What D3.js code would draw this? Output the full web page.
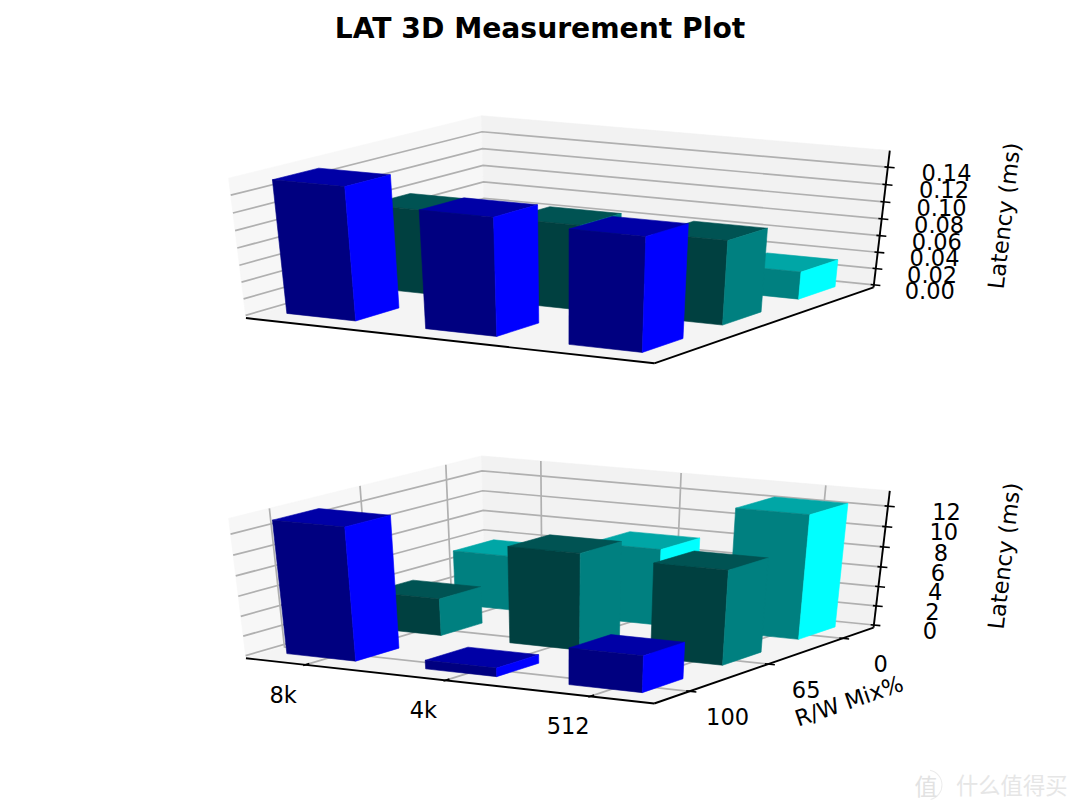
<!DOCTYPE html>
<html>
<head>
<meta charset="utf-8">
<script src="https://cdn.jsdelivr.net/npm/d3@7"></script>
<style>
  body { margin: 0; background: #fff; }
  text { font-family: "DejaVu Sans", sans-serif; fill: #000; }
</style>
</head>
<body>
<div id="chart"></div>
<script>
// Data
// ===========================
var blockSizes = ["8k", "4k", "512"];
var rwMixes = ["100", "65", "0"];
var barColors = ["#0000ff", "#008080", "#00ffff"];

// one array per R/W mix row, in blockSizes order
var avgLatency100 = [0.155, 0.137, 0.132];
var avgLatency65 = [0.100, 0.100, 0.099];
var avgLatency0 = [0.030, 0.030, 0.033];

var maxLatency100 = [13.14, 0.87, 3.67];
var maxLatency65 = [3.77, 9.68, 9.42];
var maxLatency0 = [5.6, 7.74, 12.43];

var avgTicks = [0, 0.02, 0.04, 0.06, 0.08, 0.10, 0.12, 0.14];
var maxTicks = [0, 2, 4, 6, 8, 10, 12];
var avgMax = 0.1555;
var maxMax = 13.2;

// Figure setup
// ===========================
var svgWidth = 1080;
var svgHeight = 810;
var barSize = 0.5;
var barLimits = [-0.125, 2.625];
var labelSize = "22.5px";

var svg = d3.select("#chart")
            .append("svg")
            .attr("width", svgWidth)
            .attr("height", svgHeight)
            .style("display", "block");

svg.append("text")
   .attr("x", 540)
   .attr("y", 28)
   .attr("text-anchor", "middle")
   .attr("dominant-baseline", "central")
   .style("font-weight", "bold")
   .style("font-size", "28.2px")
   .text("LAT 3D Measurement Plot");

// Camera, same maths as the matplotlib 3d axes (elev 30, azim -60, dist 10)
// ===========================
var elev = 30 * Math.PI / 180;
var azim = -60 * Math.PI / 180;
var dist = 10;
var n = [Math.cos(elev) * Math.cos(azim), Math.cos(elev) * Math.sin(azim), Math.sin(elev)];
var u = [-n[1] / Math.cos(elev), n[0] / Math.cos(elev), 0];
var v = [n[1] * u[2] - n[2] * u[1], n[2] * u[0] - n[0] * u[2], n[0] * u[1] - n[1] * u[0]];

function dot(a, b) {
  return a[0] * b[0] + a[1] * b[1] + a[2] * b[2];
}

// the panes stick out of the axis limits by 1/48 on each side
var lo = -1 / 48;
var hi = 49 / 48;
var tickDelta = 1 / 12;

var screenX = d3.scaleLinear().domain([-0.095, 0.09]).range([135, 972]);

function drawPanel(opts) {
  var screenY = d3.scaleLinear().domain([-0.095, 0.09]).range(opts.yRange);
  var xScale = d3.scaleLinear().domain(barLimits).range([0, 1]);
  var yScale = d3.scaleLinear().domain(barLimits).range([0, 1]);
  var zScale = d3.scaleLinear().domain([0, opts.zMax]).range([0, 1]);

  function project(p) {
    var c = [p[0] - 0.5, p[1] - 0.5, p[2] - 0.5];
    var w = dist - dot(n, c);
    return [screenX(dot(u, c) / w), screenY(dot(v, c) / w)];
  }

  var line = d3.line().x(function(d) { return project(d)[0]; })
                      .y(function(d) { return project(d)[1]; });
  var g = svg.append("g");

  function poly(points, fill) {
    g.append("path")
     .attr("d", line(points) + "Z")
     .attr("fill", fill)
     .attr("stroke", fill)
     .attr("stroke-width", 0.6);
  }

  function seg(points, color, width) {
    g.append("path")
     .attr("d", line(points))
     .attr("fill", "none")
     .attr("stroke", color)
     .attr("stroke-width", width);
  }

  // panes
  poly([[lo, lo, lo], [lo, hi, lo], [lo, hi, hi], [lo, lo, hi]], "#f7f7f7");
  poly([[lo, hi, lo], [hi, hi, lo], [hi, hi, hi], [lo, hi, hi]], "#f2f2f2");
  poly([[lo, lo, lo], [hi, lo, lo], [hi, hi, lo], [lo, hi, lo]], "#f4f4f4");

  // grid
  var tickSpots = opts.showFloor ? blockSizes.map(function(d, i) { return i + barSize / 2; }) : [];
  tickSpots.forEach(function(t) {
    seg([[xScale(t), lo, lo], [xScale(t), hi, lo], [xScale(t), hi, hi]], "#b0b0b0", 1.7);
    seg([[hi, yScale(t), lo], [lo, yScale(t), lo], [lo, yScale(t), hi]], "#b0b0b0", 1.7);
  });
  opts.zTicks.forEach(function(t) {
    seg([[lo, lo, zScale(t)], [lo, hi, zScale(t)], [hi, hi, zScale(t)]], "#b0b0b0", 1.7);
  });

  // axis lines
  seg([[lo, lo, lo], [hi, lo, lo]], "#000", 1.9);
  seg([[hi, lo, lo], [hi, hi, lo]], "#000", 1.9);
  seg([[hi, hi, lo], [hi, hi, hi]], "#000", 1.9);

  // z ticks and labels
  opts.zTicks.forEach(function(t) {
    var z = zScale(t);
    seg([[hi - 0.1 * tickDelta, hi, z], [hi + 0.2 * tickDelta, hi, z]], "#000", 1.6);
    var at = project([hi + 0.143, hi, z]);
    g.append("text")
     .attr("x", at[0])
     .attr("y", at[1] + 0.5)
     .attr("text-anchor", "middle")
     .attr("dominant-baseline", "central")
     .style("font-size", labelSize)
     .text(opts.zFormat(t));
  });

  // x and y ticks only on the lower panel
  if (opts.showFloor) {
    blockSizes.forEach(function(name, i) {
      var x = xScale(i + barSize / 2);
      seg([[x, lo - 0.1 * tickDelta, lo], [x, lo + 0.2 * tickDelta, lo]], "#000", 1.6);
      var at = project([x, lo, lo]);
      g.append("text")
       .attr("x", at[0] - 22)
       .attr("y", at[1] + 30)
       .attr("text-anchor", "middle")
       .attr("dominant-baseline", "central")
       .style("font-size", labelSize)
       .text(name);
    });
    rwMixes.forEach(function(name, i) {
      var y = yScale(i + barSize / 2);
      seg([[hi - 0.1 * tickDelta, y, lo], [hi + 0.2 * tickDelta, y, lo]], "#000", 1.6);
      var at = project([hi, y, lo]);
      g.append("text")
       .attr("x", at[0] + 38)
       .attr("y", at[1] + 26)
       .attr("text-anchor", "middle")
       .attr("dominant-baseline", "central")
       .style("font-size", labelSize)
       .text(name);
    });
    g.append("text")
     .attr("transform", "translate(849," + (opts.yRange[0] - 20) + ") rotate(-19)")
     .attr("text-anchor", "middle")
     .attr("dominant-baseline", "central")
     .style("font-size", labelSize)
     .text("R/W Mix%");
  }

  // follows the tilt of the z axis
  g.append("text")
   .attr("transform", "translate(1004," + (opts.yRange[0] - 165) + ") rotate(-83.5)")
   .attr("text-anchor", "middle")
   .attr("dominant-baseline", "central")
   .style("font-size", labelSize)
   .text("Latency (ms)");

  // bars, back row first so the nearer ones paint over
  d3.range(opts.rows.length - 1, -1, -1).forEach(function(r) {
    var color = d3.rgb(barColors[r]);
    function shade(k) {
      return d3.rgb(color.r * k, color.g * k, color.b * k).formatHex();
    }
    opts.rows[r].forEach(function(val, i) {
      var x0 = xScale(i), x1 = xScale(i + barSize);
      var y0 = yScale(r), y1 = yScale(r + barSize);
      var z0 = zScale(0), z1 = zScale(val);
      poly([[x0, y0, z1], [x0, y1, z1], [x1, y1, z1], [x1, y0, z1]], shade(0.65));
      poly([[x0, y0, z0], [x1, y0, z0], [x1, y0, z1], [x0, y0, z1]], shade(0.5));
      poly([[x1, y0, z0], [x1, y1, z0], [x1, y1, z1], [x1, y0, z1]], shade(1));
    });
  });
}

drawPanel({
  yRange: [380.7, 97.2],
  zMax: avgMax,
  zTicks: avgTicks,
  zFormat: d3.format(".2f"),
  rows: [avgLatency100, avgLatency65, avgLatency0],
  showFloor: false
});

drawPanel({
  yRange: [720.9, 437.4],
  zMax: maxMax,
  zTicks: maxTicks,
  zFormat: d3.format("d"),
  rows: [maxLatency100, maxLatency65, maxLatency0],
  showFloor: true
});

// Site watermark in the corner
// ===========================
var mark = svg.append("g");
mark.append("path")
    .attr("d", d3.arc()({ innerRadius: 14.5, outerRadius: 15.5, startAngle: 0.2, endAngle: 2.9 }))
    .attr("transform", "translate(927,785)")
    .attr("fill", "#ececec");
mark.append("text")
    .attr("x", 926)
    .attr("y", 785)
    .attr("text-anchor", "middle")
    .attr("dominant-baseline", "central")
    .style("font-family", '"Noto Sans CJK SC"')
    .style("font-size", "23px")
    .style("fill", "#e2e2e2")
    .text("值");
mark.append("text")
    .attr("x", 956)
    .attr("y", 784)
    .attr("dominant-baseline", "central")
    .style("font-family", '"Noto Sans CJK SC"')
    .style("font-size", "22.3px")
    .style("fill", "#e6e6e6")
    .text("什么值得买");
</script>
</body>
</html>
